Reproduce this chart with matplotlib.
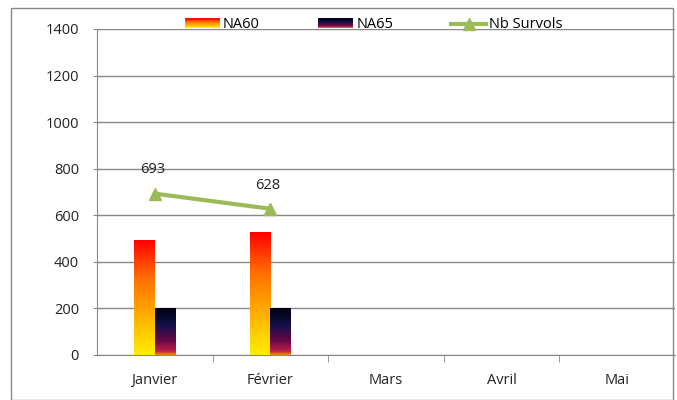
import numpy as np
import matplotlib
matplotlib.use('Agg')
import matplotlib.pyplot as plt
from matplotlib.colors import LinearSegmentedColormap
from matplotlib.patches import Rectangle
from matplotlib.lines import Line2D
from matplotlib.legend_handler import HandlerBase

months = ['Janvier', 'Février', 'Mars', 'Avril', 'Mai']
na60 = [493, 528]
na65 = [200, 200]
nb_survols = [693, 628]

plt.rcParams['font.family'] = ['Open Sans', 'DejaVu Sans']
fs = 10.5

# gradients, bottom -> top
cmap60 = LinearSegmentedColormap.from_list('na60', ['#ffee00', '#ffb000', '#ff7000', '#ff0000'])
cmap65 = LinearSegmentedColormap.from_list(
    'na65', [(0.0, '#ff8c00'), (0.08, '#c0204a'), (0.3, '#6a0845'), (0.65, '#10104a'), (1.0, '#000010')])
green = '#9bbb59'

fig = plt.figure(figsize=(6.77, 4.0), dpi=100)
ax = fig.add_axes([97 / 677, 1 - 355 / 400, 578 / 677, 326 / 400])
fig.patches.append(Rectangle((11 / 677, 0), 662 / 677, 392 / 400, transform=fig.transFigure,
                             fill=False, edgecolor='#888888', lw=1))

w = 0.18
grad = np.linspace(0, 1, 256).reshape(-1, 1)
for i in range(len(na60)):
    ax.imshow(grad, cmap=cmap60, origin='lower', aspect='auto',
              extent=(i - w, i, 0, na60[i]), zorder=2)
    ax.imshow(grad, cmap=cmap65, origin='lower', aspect='auto',
              extent=(i, i + w, 0, na65[i]), zorder=2)

x_line = np.arange(len(nb_survols))
ax.plot(x_line, nb_survols, color=green, lw=3, marker='^', ms=9, zorder=3)
for x, v in zip(x_line, nb_survols):
    ax.text(x - 0.02, v + 102, str(v), ha='center', va='center', fontsize=fs, color='#222222')

ax.set_xlim(-0.5, len(months) - 0.5)
ax.set_ylim(0, 1400)
ax.set_yticks(np.arange(0, 1401, 200))
ax.set_xticks(range(len(months)))
ax.set_xticklabels(months)
ax.set_xticks(np.arange(0.5, len(months) - 0.5, 1), minor=True)
ax.tick_params(axis='x', which='major', length=0, pad=13, labelsize=fs, labelcolor='#222222')
ax.tick_params(axis='x', which='minor', length=5, color='#888888', direction='out')
ax.tick_params(axis='y', length=6, color='#888888', direction='inout', pad=10, labelsize=fs, labelcolor='#222222')
ax.grid(axis='y', color='#888888', lw=1)
ax.set_axisbelow(True)
for s in ['top', 'right']:
    ax.spines[s].set_visible(False)
for s in ['left', 'bottom']:
    ax.spines[s].set_color('#888888')


class GradHandler(HandlerBase):
    def __init__(self, cmap):
        super().__init__()
        self.cmap = cmap

    def create_artists(self, legend, orig_handle, xdescent, ydescent, width, height, fontsize, trans):
        n = 12
        arts = []
        for k in range(n):
            r = Rectangle((-xdescent, -ydescent + height * k / n), width, height / n + 0.3,
                          facecolor=self.cmap((k + 0.5) / n), edgecolor='none', transform=trans)
            arts.append(r)
        return arts


h60 = Rectangle((0, 0), 1, 1)
h65 = Rectangle((0, 0), 1, 1)
hline = Line2D([], [], color=green, lw=3, marker='^', ms=8)
fig.legend([h60, h65, hline], ['NA60', 'NA65', 'Nb Survols'],
           handler_map={h60: GradHandler(cmap60), h65: GradHandler(cmap65)},
           loc='center', bbox_to_anchor=(374 / 677, 1 - 25 / 400), ncol=3, frameon=False,
           fontsize=fs, handlelength=2.4, handleheight=0.6, columnspacing=4.0, handletextpad=0.2)

fig.savefig('out.png', dpi=100)
